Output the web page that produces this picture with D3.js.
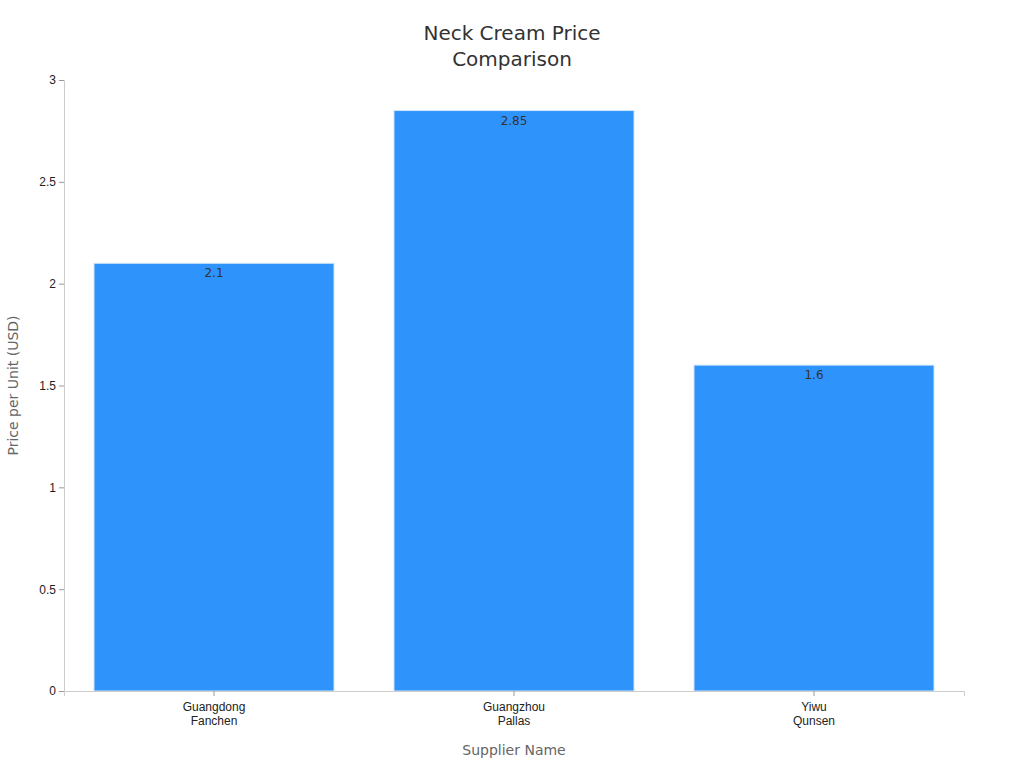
<!DOCTYPE html>
<html><head><meta charset="utf-8">
<script src="https://cdn.jsdelivr.net/npm/d3@7"></script>
<style>body{margin:0;background:#fff;font-family:"DejaVu Sans",sans-serif;}</style>
</head><body><svg id="chart" width="1024" height="768"></svg>
<script>
// Data
const suppliers = [["Guangdong", "Fanchen"], ["Guangzhou", "Pallas"], ["Yiwu", "Qunsen"]];
const prices = [2.1, 2.85, 1.6];
const yTicks = [0, 0.5, 1, 1.5, 2, 2.5, 3];

const svg = d3.select('#chart');
const margin = {top: 80, right: 60, bottom: 77, left: 64};
const width = 1024, height = 768;
const plotW = width - margin.left - margin.right;
const plotH = height - margin.top - margin.bottom;

const g = svg.append('g').attr('transform', `translate(${margin.left},${margin.top})`);

const x = d3.scaleBand().domain(d3.range(suppliers.length)).range([0, plotW]).paddingInner(0.2).paddingOuter(0.1);
const y = d3.scaleLinear().domain([0, 3]).range([plotH, 0]);

// Y axis
const yAxis = g.append('g').call(d3.axisLeft(y).tickValues(yTicks).tickSize(5).tickFormat(d3.format('')));
yAxis.select('.domain').attr('stroke', '#ccc');
yAxis.selectAll('.tick line').attr('stroke', '#999');
yAxis.selectAll('text').attr('fill', '#222').style('font-size', '12px');

// Bars
g.selectAll('rect.bar').data(prices).enter().append('rect')
    .attr('class', 'bar')
    .attr('x', (d, i) => x(i))
    .attr('y', d => y(d))
    .attr('width', x.bandwidth())
    .attr('height', d => plotH - y(d))
    .attr('fill', '#2E93FA')
    .attr('stroke', '#cfe4fb')
    .attr('stroke-width', 1);

g.selectAll('text.val').data(prices).enter().append('text')
    .attr('x', (d, i) => x(i) + x.bandwidth() / 2)
    .attr('y', d => y(d) + 14)
    .attr('text-anchor', 'middle')
    .attr('fill', '#333')
    .style('font-size', '12px')
    .text(d => d);

// X axis
const xAxis = g.append('g').attr('transform', `translate(0,${plotH})`)
    .call(d3.axisBottom(x).tickSize(5).tickFormat(''));
xAxis.select('.domain').attr('stroke', '#ccc');
xAxis.selectAll('.tick line').attr('stroke', '#999');
xAxis.selectAll('.tick').each(function(d) {
    const t = d3.select(this).append('text').attr('fill', '#222').attr('text-anchor', 'middle').style('font-size', '12px');
    suppliers[d].forEach((s, k) => t.append('tspan').attr('x', 0).attr('y', 20 + k * 14).text(s));
});

// Titles
const title = svg.append('text').attr('x', 512).attr('text-anchor', 'middle').attr('fill', '#333').style('font-size', '20px');
title.append('tspan').attr('x', 512).attr('y', 40).text('Neck Cream Price');
title.append('tspan').attr('x', 512).attr('y', 66).text('Comparison');

svg.append('text').attr('x', 514).attr('y', 755).attr('text-anchor', 'middle')
    .attr('fill', '#666').style('font-size', '14px').text('Supplier Name');

svg.append('text').attr('transform', `translate(18,${margin.top + plotH / 2}) rotate(-90)`)
    .attr('text-anchor', 'middle').attr('fill', '#666').style('font-size', '14px').text('Price per Unit (USD)');
</script></body></html>
